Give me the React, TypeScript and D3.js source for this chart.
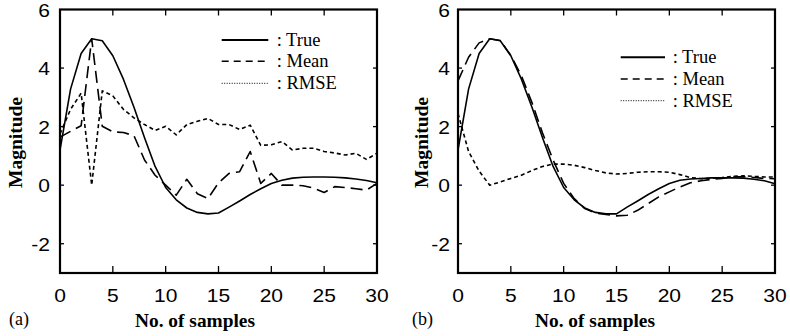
import React from "react";
import * as d3 from "d3";

const samples = [0,1,2,3,4,5,6,7,8,9,10,11,12,13,14,15,16,17,18,19,20,21,22,23,24,25,26,27,28,29,30];
const xTicks = [0, 5, 10, 15, 20, 25, 30];
const yTicks = [-2, 0, 2, 4, 6];
const legendLabels = [": True", ": Mean", ": RMSE"];
const panelLabels = ["(a)", "(b)"];
const xAxisTitle = "No. of samples";
const yAxisTitle = "Magnitude";

const trueA = [1.2,3.28,4.5,5.0,4.93,4.42,3.62,2.66,1.62,0.64,-0.08,-0.5,-0.78,-0.93,-0.98,-0.95,-0.75,-0.54,-0.32,-0.12,0.06,0.17,0.24,0.27,0.28,0.28,0.27,0.25,0.21,0.16,0.08];
const meanA = [1.64,1.84,2.03,5.0,2.01,1.82,1.8,1.69,0.86,0.34,0.0,-0.34,0.2,-0.29,-0.46,0.08,0.4,0.46,1.15,0.06,0.4,0.0,0.0,-0.02,-0.1,-0.25,-0.05,-0.08,-0.12,-0.17,0.06];
const rmseA = [1.75,2.59,3.14,0.0,3.22,3.05,2.59,2.3,2.07,1.87,2.01,1.72,2.07,2.18,2.28,2.07,2.07,1.9,2.05,1.36,1.38,1.49,1.2,1.26,1.26,1.15,1.1,1.03,1.09,0.88,1.09];

const trueB = [1.2,3.28,4.5,5.0,4.93,4.42,3.62,2.66,1.62,0.64,-0.08,-0.5,-0.78,-0.93,-0.98,-0.98,-0.75,-0.54,-0.32,-0.12,0.06,0.17,0.21,0.23,0.25,0.25,0.25,0.24,0.2,0.15,0.05];
const meanB = [3.56,4.37,4.86,5.0,4.94,4.43,3.74,2.82,1.78,0.86,0.06,-0.46,-0.8,-0.95,-1.0,-1.05,-1.03,-0.86,-0.63,-0.4,-0.23,-0.06,0.08,0.15,0.2,0.23,0.29,0.29,0.26,0.23,0.22];
const rmseB = [2.45,1.15,0.48,0.0,0.11,0.23,0.34,0.5,0.64,0.72,0.72,0.68,0.6,0.5,0.42,0.38,0.4,0.44,0.46,0.46,0.44,0.36,0.26,0.22,0.24,0.26,0.3,0.32,0.3,0.28,0.28];

type PanelCfg = {
  x0: number; x1: number;
  label: string; labelX: number;
  legLine: [number, number]; legTextX: number; legY: number[];
  yTickRight: number; yTitleX: number; xTitleCx: number;
  series: number[][];
};

const TOP = 9.5, BOTTOM = 273;
const styles = [
  { dash: undefined as string | undefined, width: 1.6 },
  { dash: "12,6", width: 1.6 },
  { dash: "4,3", width: 1.6 },
];
const legStyles = [
  { dash: undefined as string | undefined, width: 2 },
  { dash: "7,5", width: 1.6 },
  { dash: "1,1.5", width: 1 },
];

function Panel({ cfg }: { cfg: PanelCfg }) {
  const x = d3.scaleLinear().domain([0, 30]).range([cfg.x0, cfg.x1]);
  const y = d3.scaleLinear().domain([-3, 6]).range([BOTTOM, TOP]);
  const line = d3.line<number>().x((_, i) => x(samples[i])).y((d) => y(d));
  const tickFont = "'Liberation Sans', Arial, sans-serif";
  const serif = "'Liberation Serif', 'Times New Roman', serif";
  return (
    <g>
      {cfg.series.map((s, i) => (
        <path key={i} d={line(s) || ""} fill="none" stroke="#000"
          strokeWidth={styles[i].width} strokeDasharray={styles[i].dash}
          strokeLinejoin="round" />
      ))}
      {/* frame */}
      <rect x={cfg.x0} y={TOP} width={cfg.x1 - cfg.x0} height={BOTTOM - TOP}
        fill="none" stroke="#000" strokeWidth={2.2} />
      {/* x ticks */}
      {xTicks.filter((t) => t > 0 && t < 30).map((t) => (
        <g key={"xt" + t}>
          <line x1={x(t)} x2={x(t)} y1={BOTTOM} y2={BOTTOM - 7} stroke="#000" strokeWidth={1.3} />
          <line x1={x(t)} x2={x(t)} y1={TOP} y2={TOP + 6} stroke="#000" strokeWidth={1.3} />
        </g>
      ))}
      {xTicks.map((t) => (
        <text key={"xl" + t} transform={`translate(${x(t)},301.5) scale(1.2,1)`} textAnchor="middle"
          fontFamily={tickFont} fontSize={17.5}>{t}</text>
      ))}
      {yTicks.map((t) => (
        <g key={"yt" + t}>
          {t < 6 && <line x1={cfg.x0} x2={cfg.x0 + 4} y1={y(t)} y2={y(t)} stroke="#000" strokeWidth={1.3} />}
          {t < 6 && <line x1={cfg.x1} x2={cfg.x1 - 4} y1={y(t)} y2={y(t)} stroke="#000" strokeWidth={1.3} />}
          <text transform={`translate(${cfg.yTickRight},${y(t) + 7}) scale(1.2,1)`} textAnchor="end"
            fontFamily={tickFont} fontSize={17.5}>{t}</text>
        </g>
      ))}
      {/* titles */}
      <text x={cfg.xTitleCx} y={327} textAnchor="middle" fontFamily={serif}
        fontWeight="bold" fontSize={19} textLength={120} lengthAdjust="spacingAndGlyphs">{xAxisTitle}</text>
      <text transform={`translate(${cfg.yTitleX},142.5) rotate(-90)`} textAnchor="middle"
        fontFamily={serif} fontWeight="bold" fontSize={19} textLength={91}
        lengthAdjust="spacingAndGlyphs">{yAxisTitle}</text>
      <text x={cfg.labelX} y={325} fontFamily={serif} fontSize={18}>{cfg.label}</text>
      {/* legend */}
      {legendLabels.map((l, i) => (
        <g key={"lg" + i}>
          <line x1={cfg.legLine[0]} x2={cfg.legLine[1]} y1={cfg.legY[i]} y2={cfg.legY[i]}
            stroke="#000" strokeWidth={legStyles[i].width} strokeDasharray={legStyles[i].dash} />
          <text x={cfg.legTextX} y={cfg.legY[i] + 6} fontFamily={serif} fontSize={18.5}>{l}</text>
        </g>
      ))}
    </g>
  );
}

export default function App() {
  const panels: PanelCfg[] = [
    {
      x0: 60, x1: 377, label: panelLabels[0], labelX: 9,
      legLine: [221.7, 268.3], legTextX: 276.7, legY: [40, 61.2, 83.3],
      yTickRight: 50, yTitleX: 21.5, xTitleCx: 195,
      series: [trueA, meanA, rmseA],
    },
    {
      x0: 458, x1: 775, label: panelLabels[1], labelX: 412,
      legLine: [620.7, 665], legTextX: 672.7, legY: [57.3, 79, 100.7],
      yTickRight: 450, yTitleX: 428, xTitleCx: 595,
      series: [trueB, meanB, rmseB],
    },
  ];
  return (
    <svg width={790} height={336} viewBox="0 0 790 336"
      style={{ position: "absolute", left: 0, top: 0, background: "#fff", display: "block" }}>
      <rect width={790} height={336} fill="#fff" />
      {panels.map((p, i) => <Panel key={i} cfg={p} />)}
    </svg>
  );
}
